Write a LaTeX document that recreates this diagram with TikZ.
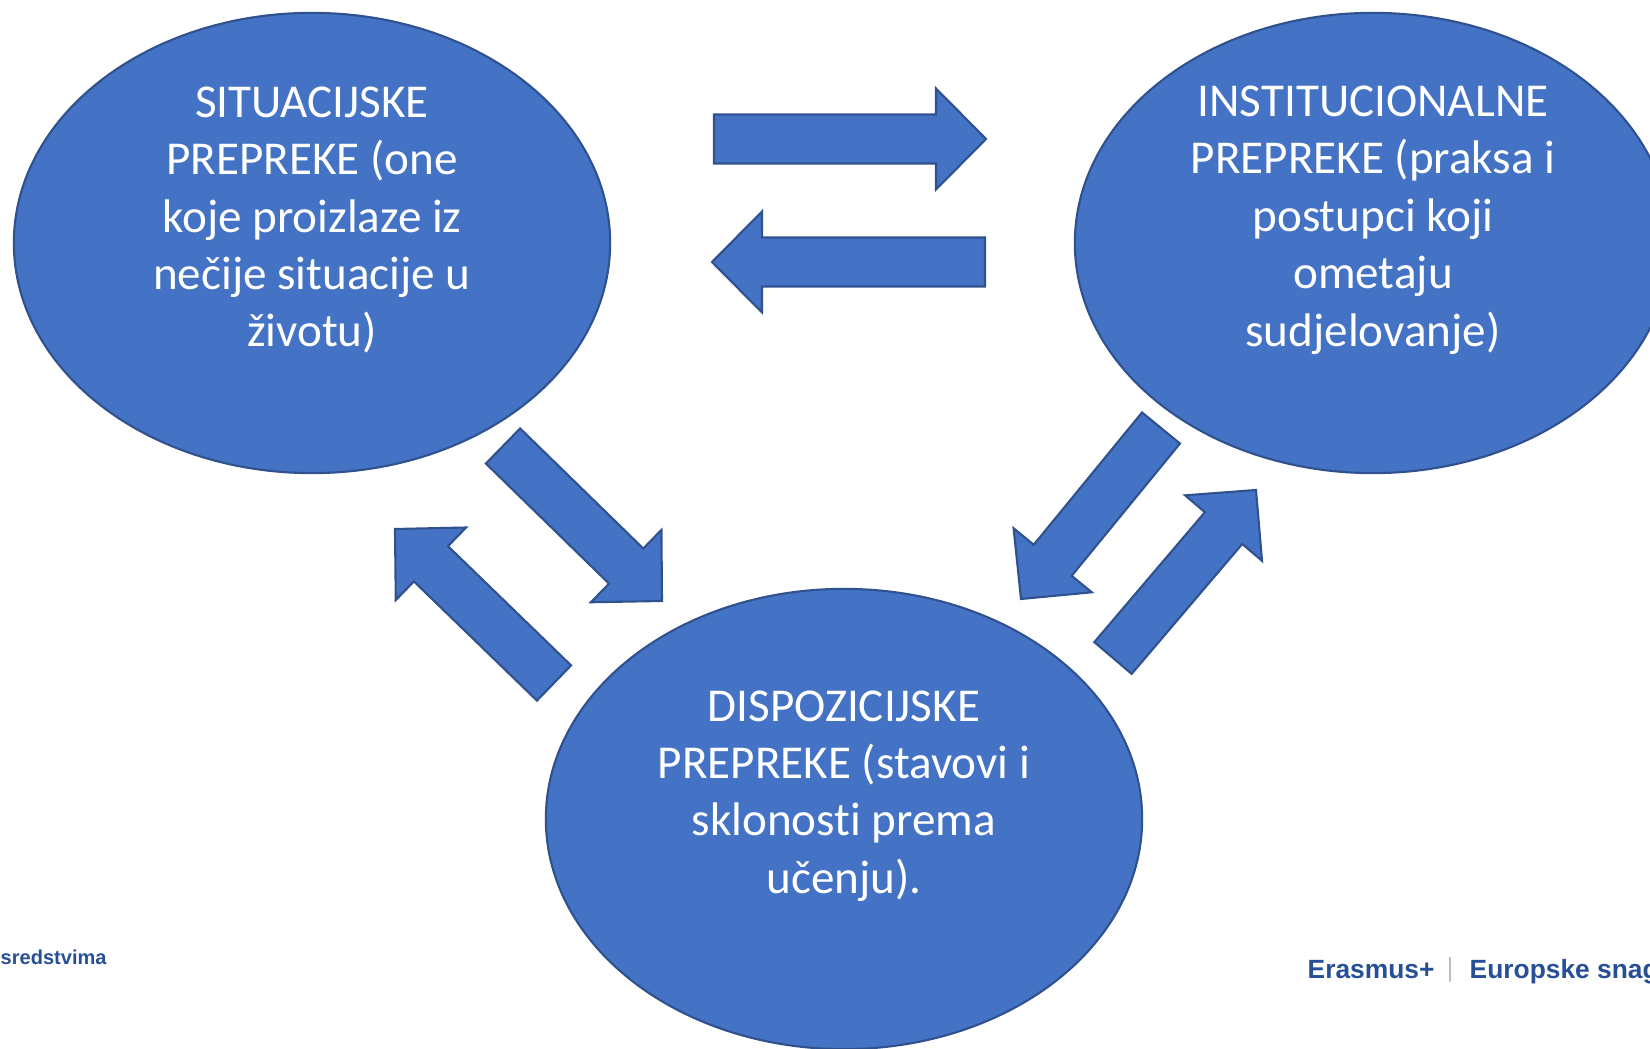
\documentclass[tikz,border=0pt]{standalone}
\usepackage{fontspec}
\setmainfont{Carlito}[Ligatures=NoCommon]
\newfontfamily\footerfont{Liberation Sans}
\usepackage{tikz}
\usetikzlibrary{calc, positioning, shapes.geometric}
\definecolor{Prepreka_blue}{HTML}{4472C4}
\definecolor{Rub_blue}{HTML}{2F528F}
\definecolor{Footer_blue}{HTML}{274F96}
\tikzset{
  prepreka/.style={ellipse, draw=Rub_blue, fill=Prepreka_blue, line width=0.6pt, minimum width=5.96cm, minimum height=4.6cm, inner sep=0pt},
  opis/.style={text=white, align=center, font=\fontsize{13.4}{16.34}\selectfont, inner sep=0pt},
  strelica/.style={draw=Rub_blue, fill=Prepreka_blue, line width=0.6pt, line join=miter},
  podnozje/.style={text=Footer_blue, font=\footerfont\bfseries\fontsize{7.5}{9}\selectfont, inner sep=0pt}
}
\newcommand{\blokstrelica}[2]{%
  \coordinate (#2-b) at ($(#2)!5mm!(#1)$);
  \filldraw[strelica] ($(#1)!2.45mm!90:(#2)$) -- ($(#2-b)!2.45mm!-90:(#1)$) -- ($(#2-b)!5.05mm!-90:(#1)$) -- (#2)
    -- ($(#2-b)!5.05mm!90:(#1)$) -- ($(#2-b)!2.45mm!90:(#1)$) -- ($(#1)!2.45mm!-90:(#2)$) -- cycle;}

\begin{document}
\begin{tikzpicture}[x=0.01cm, y=-0.01cm]
  \useasboundingbox (0,0) rectangle (1650,1049);
  \clip (0,0) rectangle (1650,1049);
  \node[prepreka] (situacijske) at (312,243) {};
  \node[prepreka] (institucionalne) at (1373,243) {};
  \node[prepreka] (dispozicijske) at (844,819) {};
  \node[opis] (situacijske-opis) at ($(situacijske)+(0,-23)$) {SITUACIJSKE\\PREPREKE (one\\koje proizlaze iz\\nečije situacije u\\životu)};
  \node[opis] (institucionalne-opis) at ($(institucionalne)+(0,-23)$) {INSTITUCIONALNE\\PREPREKE (praksa i\\postupci koji\\ometaju\\sudjelovanje)};
  \node[opis] (dispozicijske-opis) at ($(dispozicijske)+(0,-23)$) {DISPOZICIJSKE\\PREPREKE (stavovi i\\sklonosti prema\\učenju).};
  \coordinate (si-rep) at (714,139);   \coordinate (si-vrh) at (986,139);
  \coordinate (is-rep) at (985,262);   \coordinate (is-vrh) at (712,262);
  \coordinate (sd-rep) at (503,446);   \coordinate (sd-vrh) at (662,601);
  \coordinate (ds-rep) at (554,683);   \coordinate (ds-vrh) at (395,529);
  \coordinate (id-rep) at (1161,428);  \coordinate (id-vrh) at (1021,599);
  \coordinate (di-rep) at (1113,658);  \coordinate (di-vrh) at (1256,490);
  \blokstrelica{si-rep}{si-vrh}
  \blokstrelica{is-rep}{is-vrh}
  \blokstrelica{sd-rep}{sd-vrh}
  \blokstrelica{ds-rep}{ds-vrh}
  \blokstrelica{id-rep}{id-vrh}
  \blokstrelica{di-rep}{di-vrh}
  \node[podnozje, anchor=base west, font=\footerfont\bfseries\fontsize{5.7}{7}\selectfont] (sufinancirano) at (0,965) {sredstvima};
  \node[podnozje, anchor=base west] (erasmus) at (1307,979) {Erasmus+};
  \draw[black!25, line width=0.8pt] (1450,957) -- (1450,982);
  \node[podnozje, anchor=base west] (europske) at (1469,979) {Europske snag};
\end{tikzpicture}
\end{document}
